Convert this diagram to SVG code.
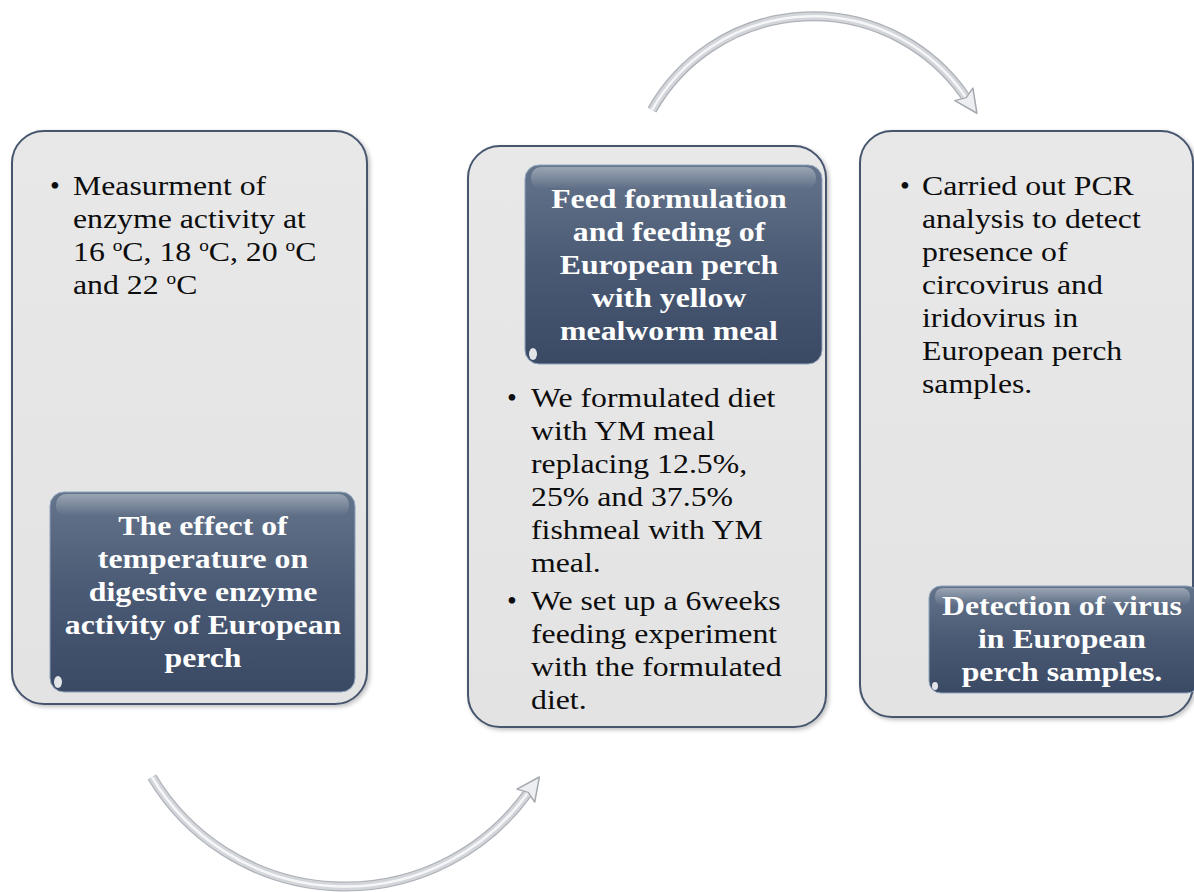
<svg xmlns="http://www.w3.org/2000/svg" width="1194" height="892" viewBox="0 0 1194 892">
  <defs>
    <linearGradient id="darkGrad" x1="0" y1="0" x2="0" y2="1">
      <stop offset="0" stop-color="#64748b"/>
      <stop offset="0.5" stop-color="#4a5a74"/>
      <stop offset="1" stop-color="#3b4a64"/>
    </linearGradient>
    <linearGradient id="gloss" x1="0" y1="0" x2="0" y2="1">
      <stop offset="0" stop-color="#ffffff" stop-opacity="0.35"/>
      <stop offset="1" stop-color="#ffffff" stop-opacity="0"/>
    </linearGradient>
    <linearGradient id="panelGrad" x1="0" y1="0" x2="0" y2="1">
      <stop offset="0" stop-color="#e8e8e8"/>
      <stop offset="1" stop-color="#e3e3e3"/>
    </linearGradient>
    <filter id="shadow" x="-10%" y="-10%" width="120%" height="120%">
      <feDropShadow dx="2" dy="2" stdDeviation="2" flood-color="#000000" flood-opacity="0.25"/>
    </filter>
    <marker id="arrowHead" markerUnits="userSpaceOnUse" orient="auto" viewBox="0 0 26 26" refX="3" refY="13" markerWidth="26" markerHeight="26">
      <polygon points="1,2 24,13 1,24 5,13" fill="#eceef1" stroke="#a4a8af" stroke-width="1.5" stroke-linejoin="round"/>
    </marker>
    <style>
      .panel { fill: url(#panelGrad); stroke: #46566e; stroke-width: 2; filter: url(#shadow); }
      .dark { fill: url(#darkGrad); stroke: #8fa3bd; stroke-width: 1; }
      .glossband { fill: url(#gloss); }
      .blob { fill: #ffffff; opacity: 0.85; }
      .body { font-family: "Liberation Serif", "Times New Roman", serif; font-size: 28px; fill: #0d0d0d; }
      .title { font-family: "Liberation Serif", "Times New Roman", serif; font-size: 28px; font-weight: bold; fill: #ffffff; text-anchor: middle; }
      .sup { font-size: 17px; }
      .tubeOuter { fill: none; stroke: #aeb2b8; stroke-width: 10; }
      .tubeMid { fill: none; stroke: #d2d5d9; stroke-width: 7.5; }
      .tubeHi { fill: none; stroke: #f5f6f8; stroke-width: 2.5; }
    </style>
  </defs>

  <rect width="1194" height="892" fill="#ffffff"/>

  <g id="connectors">
    <g id="arrow-top">
      <path class="tubeOuter" d="M652,110 A185,185 0 0 1 965,96"/>
      <path class="tubeMid" d="M652,110 A185,185 0 0 1 965,96"/>
      <path class="tubeHi" d="M652,110 A185,185 0 0 1 965,96" marker-end="url(#arrowHead)"/>
    </g>
    <g id="arrow-bottom">
      <path class="tubeOuter" d="M152,777 A225,225 0 0 0 527,794"/>
      <path class="tubeMid" d="M152,777 A225,225 0 0 0 527,794"/>
      <path class="tubeHi" d="M152,777 A225,225 0 0 0 527,794" marker-end="url(#arrowHead)"/>
    </g>
  </g>

  <g id="node-temperature">
    <rect class="panel" x="12" y="131" width="355" height="573" rx="32"/>
    <text class="body" x="50" y="195">•</text>
    <g transform="matrix(1.135,0,0,1,73,0)">
      <text class="body" x="0" y="195">Measurment of</text>
      <text class="body" x="0" y="228">enzyme activity at</text>
      <text class="body" x="0" y="261">16 <tspan class="sup" dy="-10">o</tspan><tspan dy="10">C, 18 </tspan><tspan class="sup" dy="-10">o</tspan><tspan dy="10">C, 20 </tspan><tspan class="sup" dy="-10">o</tspan><tspan dy="10">C</tspan></text>
      <text class="body" x="0" y="294">and 22 <tspan class="sup" dy="-10">o</tspan><tspan dy="10">C</tspan></text>
    </g>
    <rect class="dark" x="50" y="492" width="305" height="200" rx="14"/>
    <rect class="glossband" x="56" y="494" width="293" height="22" rx="10"/>
    <ellipse class="blob" cx="58" cy="682" rx="4" ry="6"/>
    <g transform="matrix(1.135,0,0,1,203,0)">
      <text class="title" x="0" y="535">The effect of</text>
      <text class="title" x="0" y="568">temperature on</text>
      <text class="title" x="0" y="601">digestive enzyme</text>
      <text class="title" x="0" y="634">activity of European</text>
      <text class="title" x="0" y="667">perch</text>
    </g>
  </g>

  <g id="node-feed">
    <rect class="panel" x="468" y="146" width="358" height="581" rx="32"/>
    <rect class="dark" x="525" y="165" width="297" height="199" rx="14"/>
    <rect class="glossband" x="531" y="167" width="285" height="22" rx="10"/>
    <ellipse class="blob" cx="533" cy="354" rx="4" ry="6"/>
    <g transform="matrix(1.135,0,0,1,669,0)">
      <text class="title" x="0" y="208">Feed formulation</text>
      <text class="title" x="0" y="241">and feeding of</text>
      <text class="title" x="0" y="274">European perch</text>
      <text class="title" x="0" y="307">with yellow</text>
      <text class="title" x="0" y="340">mealworm meal</text>
    </g>
    <text class="body" x="507" y="407">•</text>
    <text class="body" x="507" y="610">•</text>
    <g transform="matrix(1.135,0,0,1,531,0)">
      <text class="body" x="0" y="407">We formulated diet</text>
      <text class="body" x="0" y="440">with YM meal</text>
      <text class="body" x="0" y="473">replacing 12.5%,</text>
      <text class="body" x="0" y="506">25% and 37.5%</text>
      <text class="body" x="0" y="539">fishmeal with YM</text>
      <text class="body" x="0" y="572">meal.</text>
      <text class="body" x="0" y="610">We set up a 6weeks</text>
      <text class="body" x="0" y="643">feeding experiment</text>
      <text class="body" x="0" y="676">with the formulated</text>
      <text class="body" x="0" y="709">diet.</text>
    </g>
  </g>

  <g id="node-virus">
    <rect class="panel" x="860" y="131" width="333" height="586" rx="32"/>
    <text class="body" x="900" y="195">•</text>
    <g transform="matrix(1.135,0,0,1,922,0)">
      <text class="body" x="0" y="195">Carried out PCR</text>
      <text class="body" x="0" y="228">analysis to detect</text>
      <text class="body" x="0" y="261">presence of</text>
      <text class="body" x="0" y="294">circovirus and</text>
      <text class="body" x="0" y="327">iridovirus in</text>
      <text class="body" x="0" y="360">European perch</text>
      <text class="body" x="0" y="393">samples.</text>
    </g>
    <rect class="dark" x="929" y="586" width="270" height="107" rx="12"/>
    <rect class="glossband" x="935" y="588" width="255" height="18" rx="8"/>
    <ellipse class="blob" cx="935" cy="686" rx="3" ry="4"/>
    <g transform="matrix(1.135,0,0,1,1062,0)">
      <text class="title" x="0" y="615">Detection of virus</text>
      <text class="title" x="0" y="648">in European</text>
      <text class="title" x="0" y="681">perch samples.</text>
    </g>
  </g>
</svg>
